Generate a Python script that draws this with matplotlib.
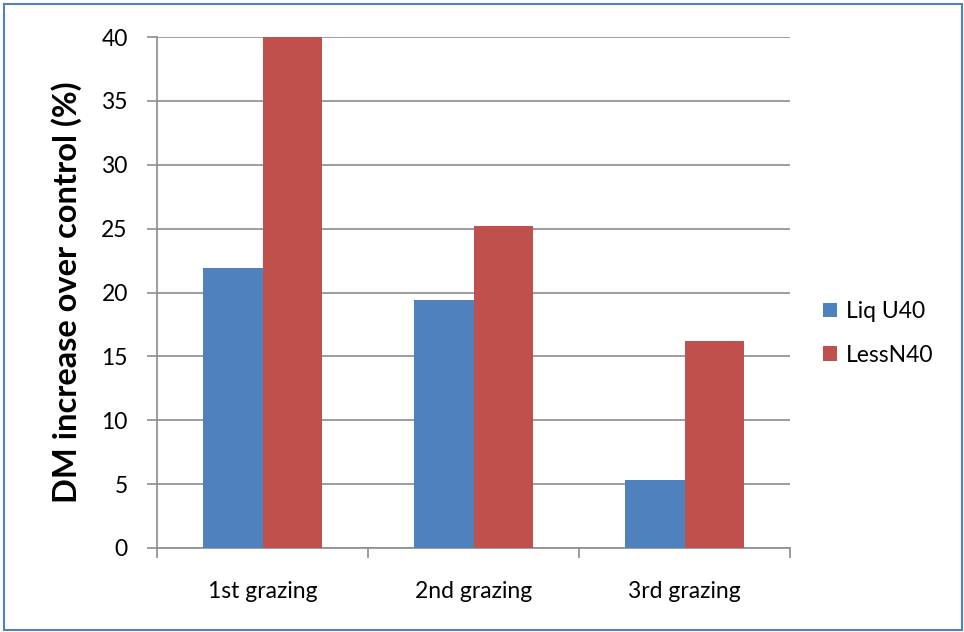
import numpy as np
import matplotlib.pyplot as plt
from matplotlib.patches import Rectangle

# DM increase over control per grazing
categories = ['1st grazing', '2nd grazing', '3rd grazing']
liq_u40 = [21.9, 19.4, 5.3]
lessn40 = [40.0, 25.2, 16.2]
series_names = ['Liq U40', 'LessN40']
yticks = [0, 5, 10, 15, 20, 25, 30, 35, 40]

plt.rcParams['font.family'] = ['Lato', 'DejaVu Sans']

fig = plt.figure(figsize=(9.64, 6.32), dpi=100)
ax = fig.add_axes([157 / 964, 1 - 548 / 632, (790 - 157) / 964, (548 - 37) / 632])

# outer chart border
fig.patches.append(Rectangle((4 / 964, 2 / 632), 958 / 964, 626 / 632, transform=fig.transFigure,
                             fill=False, edgecolor='#4F81BD', linewidth=1.5))

x = np.arange(len(categories))
w = 0.284
ax.bar(x - w / 2, liq_u40, w, color='#4F81BD', label=series_names[0], zorder=3)
ax.bar(x + w / 2, lessn40, w, color='#C0504D', label=series_names[1], zorder=3)

ax.set_xlim(-0.5, len(categories) - 0.5)
ax.set_ylim(0, 40)
ax.set_yticks(yticks)
ax.yaxis.grid(True, color='#8C8C8C', linewidth=1.2, zorder=0)
ax.set_axisbelow(True)

# category tick marks sit between the groups
ax.set_xticks(np.arange(-0.5, len(categories)), minor=False)
ax.set_xticklabels([])
ax.set_xticks(x, minor=True)
ax.set_xticklabels(categories, minor=True, fontsize=16.5)
ax.tick_params(axis='x', which='minor', length=0, pad=24)
ax.tick_params(axis='x', which='major', length=7, color='#8C8C8C', width=1.2)
ax.tick_params(axis='y', length=7, color='#8C8C8C', width=1.2, labelsize=16.5, pad=14)

for side in ['top', 'right']:
    ax.spines[side].set_visible(False)
for side in ['left', 'bottom']:
    ax.spines[side].set_color('#8C8C8C')
    ax.spines[side].set_linewidth(1.2)

ax.set_ylabel('DM increase over control (%)', fontsize=23.5, fontweight='bold', labelpad=14)

ax.legend(loc='center left', bbox_to_anchor=(1.02, 0.42), frameon=False, fontsize=16.5,
          handlelength=0.6, handleheight=0.6, labelspacing=1.0, handletextpad=0.4)

fig.savefig('out.png', dpi=100)
